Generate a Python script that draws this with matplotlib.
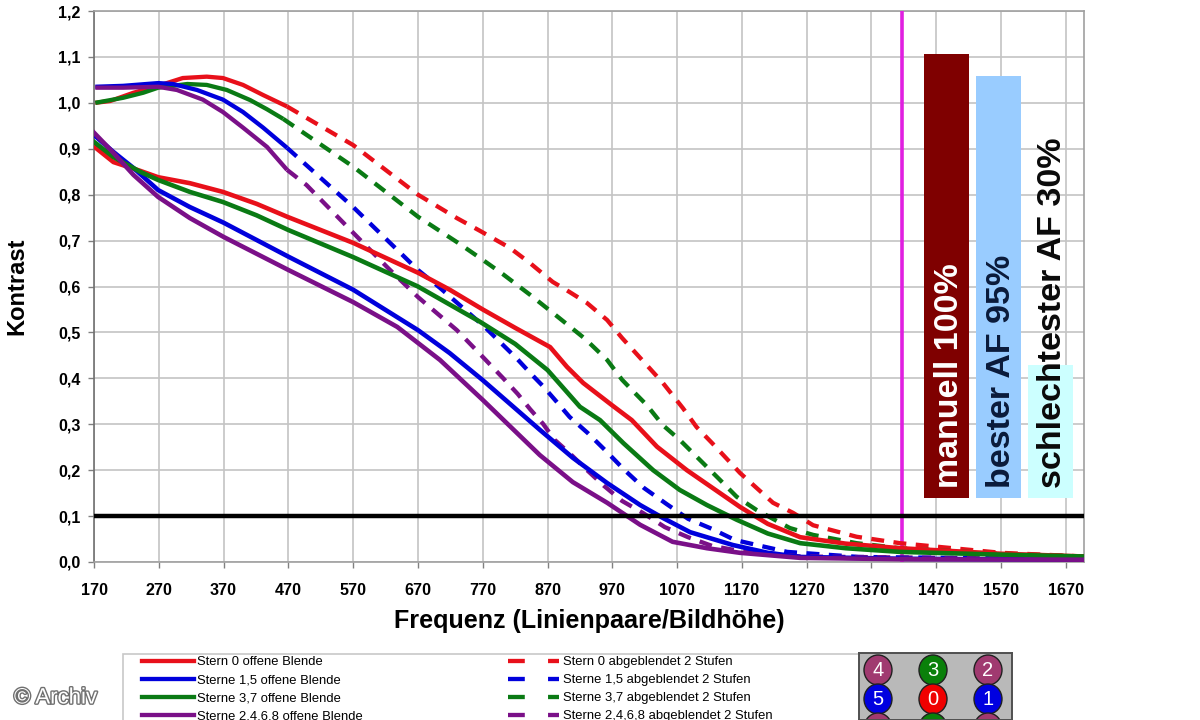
import matplotlib
matplotlib.use("Agg")
import matplotlib.patheffects as pe
import matplotlib.pyplot as plt
from matplotlib.lines import Line2D
from matplotlib.patches import Ellipse, Rectangle

plt.rcParams["font.family"] = ["Liberation Sans", "DejaVu Sans"]

# offene Blende
red_x = [170, 200, 241, 269, 318, 369, 421, 468, 570, 670, 719, 770, 820, 874, 900, 925, 969, 1000, 1039, 1085, 1125, 1167, 1210, 1260, 1330, 1414, 1570, 1698]
red_y = [0.905, 0.871, 0.852, 0.838, 0.825, 0.806, 0.78, 0.752, 0.695, 0.63, 0.593, 0.55, 0.51, 0.468, 0.425, 0.39, 0.342, 0.309, 0.251, 0.2, 0.161, 0.12, 0.083, 0.054, 0.04, 0.03, 0.018, 0.012]
blue_x = [170, 200, 231, 269, 318, 370, 470, 570, 670, 719, 770, 858, 909, 962, 1013, 1048, 1090, 1156, 1210, 1260, 1420, 1698]
blue_y = [0.93, 0.893, 0.858, 0.81, 0.773, 0.739, 0.665, 0.593, 0.505, 0.455, 0.396, 0.288, 0.227, 0.172, 0.124, 0.096, 0.065, 0.037, 0.02, 0.011, 0.007, 0.005]
green_x = [170, 200, 241, 269, 318, 369, 421, 470, 570, 670, 766, 820, 870, 920, 951, 987, 1033, 1074, 1116, 1162, 1210, 1260, 1330, 1414, 1570, 1698]
green_y = [0.915, 0.882, 0.85, 0.832, 0.806, 0.784, 0.755, 0.723, 0.664, 0.6, 0.523, 0.475, 0.418, 0.338, 0.309, 0.259, 0.2, 0.157, 0.124, 0.092, 0.062, 0.041, 0.03, 0.022, 0.016, 0.012]
purple_x = [170, 200, 231, 269, 318, 370, 470, 570, 638, 704, 770, 858, 909, 962, 1013, 1063, 1116, 1167, 1260, 1420, 1698]
purple_y = [0.935, 0.891, 0.843, 0.795, 0.749, 0.708, 0.636, 0.566, 0.512, 0.44, 0.353, 0.233, 0.174, 0.129, 0.081, 0.044, 0.03, 0.02, 0.009, 0.006, 0.005]

# abgeblendet 2 Stufen
red2_x = [172, 195, 231, 269, 307, 344, 369, 400, 431, 468, 570, 670, 730, 766, 812, 843, 878, 904, 931, 962, 985, 1023, 1048, 1079, 1100, 1124, 1167, 1218, 1249, 1280, 1347, 1414, 1570, 1698]
red2_y = [1.0, 1.004, 1.022, 1.037, 1.054, 1.057, 1.054, 1.039, 1.017, 0.992, 0.908, 0.8, 0.749, 0.721, 0.684, 0.651, 0.61, 0.588, 0.564, 0.527, 0.488, 0.429, 0.39, 0.335, 0.294, 0.259, 0.194, 0.129, 0.107, 0.08, 0.055, 0.041, 0.02, 0.012]
blue2_x = [172, 215, 269, 292, 329, 369, 400, 431, 468, 570, 670, 704, 773, 801, 822, 843, 863, 884, 904, 932, 960, 989, 1019, 1054, 1087, 1124, 1159, 1193, 1240, 1350, 1698]
blue2_y = [1.035, 1.037, 1.043, 1.041, 1.028, 1.007, 0.98, 0.946, 0.902, 0.773, 0.636, 0.597, 0.512, 0.473, 0.444, 0.412, 0.383, 0.349, 0.316, 0.281, 0.242, 0.2, 0.161, 0.126, 0.094, 0.072, 0.048, 0.037, 0.022, 0.011, 0.006]
green2_x = [172, 215, 246, 269, 314, 344, 375, 411, 437, 462, 570, 670, 732, 770, 801, 843, 884, 928, 962, 985, 1000, 1023, 1048, 1074, 1136, 1162, 1193, 1244, 1280, 1347, 1414, 1570, 1698]
green2_y = [1.0, 1.011, 1.022, 1.033, 1.041, 1.039, 1.028, 1.006, 0.986, 0.965, 0.861, 0.752, 0.695, 0.658, 0.627, 0.582, 0.536, 0.486, 0.44, 0.397, 0.375, 0.342, 0.298, 0.266, 0.179, 0.142, 0.113, 0.074, 0.059, 0.041, 0.03, 0.018, 0.012]
purple2_x = [172, 215, 269, 298, 338, 369, 400, 437, 468, 498, 570, 624, 670, 730, 763, 801, 824, 843, 863, 881, 904, 931, 957, 985, 1017, 1051, 1087, 1124, 1159, 1260, 1698]
purple2_y = [1.033, 1.033, 1.035, 1.028, 1.007, 0.98, 0.946, 0.904, 0.854, 0.821, 0.717, 0.64, 0.577, 0.505, 0.457, 0.401, 0.366, 0.333, 0.301, 0.266, 0.237, 0.2, 0.166, 0.133, 0.107, 0.076, 0.054, 0.035, 0.026, 0.012, 0.006]

labels_open = ["Stern 0 offene Blende", "Sterne 1,5 offene Blende", "Sterne 3,7 offene Blende", "Sterne 2,4,6,8 offene Blende"]
labels_stop = ["Stern 0 abgeblendet 2 Stufen", "Sterne 1,5 abgeblendet 2 Stufen", "Sterne 3,7 abgeblendet 2 Stufen", "Sterne 2,4,6,8 abgeblendet 2 Stufen"]

bar_labels = ["manuell 100%", "bester AF 95%", "schlechtester AF 30%"]
bar_x = [1486, 1566, 1646]
bar_top = [1.107, 1.059, 0.43]
bar_bottom = 0.14
bar_colors = ["#7f0000", "#99ccff", "#ccffff"]
bar_text_colors = ["white", "#0a1a3a", "#0a0a0a"]

x_ticks = list(range(170, 1671, 100))
y_ticks = [0.0, 0.1, 0.2, 0.3, 0.4, 0.5, 0.6, 0.7, 0.8, 0.9, 1.0, 1.1, 1.2]

star_labels = ["4", "3", "2", "5", "0", "1", "6", "7", "8"]
star_colors = ["#a03a70", "#0a800a", "#a03a70", "#0000e0", "#f00000", "#0000e0", "#a03a70", "#0a800a", "#a03a70"]

RED, BLUE, GREEN, PURPLE = "#e8101a", "#0000dc", "#0a7a14", "#7a1088"
LW = 3.1
DASHES = (3.0, 2.2)
W, H = 1200, 720

fig = plt.figure(figsize=(12, 7.2), dpi=100)
ax = fig.add_axes([94 / W, 1 - 562 / H, 990 / W, 551 / H])

ax.bar(bar_x, [t - bar_bottom for t in bar_top], bottom=bar_bottom, width=69, color=bar_colors, zorder=2)
ax.axvline(1417, color="#e020e0", lw=2.6, zorder=3)

# the start of each dashed curve is so jagged in the original that it reads as solid
for xs, ys, col in [(red2_x, red2_y, RED), (green2_x, green2_y, GREEN), (blue2_x, blue2_y, BLUE), (purple2_x, purple2_y, PURPLE)]:
    n = next(i for i, v in enumerate(xs) if v >= 460) + 1
    ax.plot(xs[:n], ys[:n], color=col, lw=LW, zorder=4, solid_capstyle="butt")
    ax.plot(xs[n - 1:], ys[n - 1:], color=col, lw=LW, ls=(0, DASHES), zorder=4)

colors = [RED, BLUE, GREEN, PURPLE]
for xs, ys, col in [(red_x, red_y, RED), (blue_x, blue_y, BLUE), (green_x, green_y, GREEN), (purple_x, purple_y, PURPLE)]:
    ax.plot(xs, ys, color=col, lw=LW + 0.2, zorder=5)

ax.axhline(0.1, color="black", lw=3.2, zorder=6)

for xc, lab, tc in zip(bar_x, bar_labels, bar_text_colors):
    ax.text(xc + 4, bar_bottom + 0.022, lab, rotation=90, ha="center", va="bottom",
            fontsize=24.5, fontweight="bold", color=tc, zorder=7)

ax.set_xlim(170, 1698)
ax.set_ylim(0, 1.2)
ax.set_xticks(x_ticks)
ax.set_yticks(y_ticks)
ax.set_yticklabels([f"{v:.1f}".replace(".", ",") for v in y_ticks])
ax.tick_params(axis="x", labelsize=11.6, length=4, color="#808080", width=1, pad=11)
ax.tick_params(axis="y", labelsize=11.6, length=4, color="#808080", width=1, pad=5.5)
for lab in ax.get_xticklabels() + ax.get_yticklabels():
    lab.set_fontweight("bold")
ax.grid(True, color="#c4c4c4", lw=1.2, zorder=0)
ax.set_axisbelow(True)
for spine in ax.spines.values():
    spine.set_color("#a0a0a0")
    spine.set_linewidth(1.2)
ax.spines["left"].set_color("#707070")

fig.text(589 / W, 1 - 621 / H, "Frequenz (Linienpaare/Bildhöhe)", ha="center", va="center",
         fontsize=18.1, fontweight="bold")
fig.text(17 / W, 1 - 286 / H, "Kontrast", rotation=90, ha="center", va="center",
         fontsize=17, fontweight="bold")

# legend: white box running off the bottom edge, two separate columns of entries
fig.add_artist(Rectangle((123 / W, -0.01), 740 / W, 66 / H + 0.01, transform=fig.transFigure,
                         facecolor="white", edgecolor="#c8c8c8", lw=1.2, zorder=-1))
leg_kw = dict(loc="upper left", bbox_transform=fig.transFigure, fontsize=9.4, frameon=False, borderpad=0,
              borderaxespad=0, handletextpad=0.3, labelspacing=0.45)
open_handles = [Line2D([], [], color=c, lw=LW) for c in colors]
stop_handles = [Line2D([], [], color=c, lw=LW, ls=(0, (3.9, 5.4))) for c in colors]
leg1 = ax.legend(open_handles, labels_open, bbox_to_anchor=(142 / W, 1 - 656 / H), handlelength=3.95, **leg_kw)
ax.add_artist(leg1)
leg2 = ax.legend(stop_handles, labels_stop, bbox_to_anchor=(508 / W, 1 - 656 / H), handlelength=3.9, **leg_kw)

# star position panel, cut off by the image edge like in the source
panel = fig.add_axes([859 / W, 0, 153 / W, 67 / H], facecolor="#b9b9b9")
panel.set_xlim(859, 1012)
panel.set_ylim(720, 653)
panel.set_xticks([])
panel.set_yticks([])
for spine in panel.spines.values():
    spine.set_color("#505050")
    spine.set_linewidth(1.4)
panel_cols = [878, 933, 988]
panel_rows = [670, 699, 728]
for i, (lab, col) in enumerate(zip(star_labels, star_colors)):
    cx, cy = panel_cols[i % 3], panel_rows[i // 3]
    panel.add_patch(Ellipse((cx, cy), 28, 30, facecolor=col, edgecolor="#202020", lw=1.0))
    panel.text(cx, cy, lab, color="white", fontsize=14.5, ha="center", va="center", clip_on=True)

fig.text(14 / W, 1 - 698 / H, "© Archiv", fontsize=16, color="white", ha="left", va="center", zorder=20,
         path_effects=[pe.withStroke(linewidth=2.0, foreground="#707070")])

fig.savefig("out.png", dpi=100)
plt.close(fig)
